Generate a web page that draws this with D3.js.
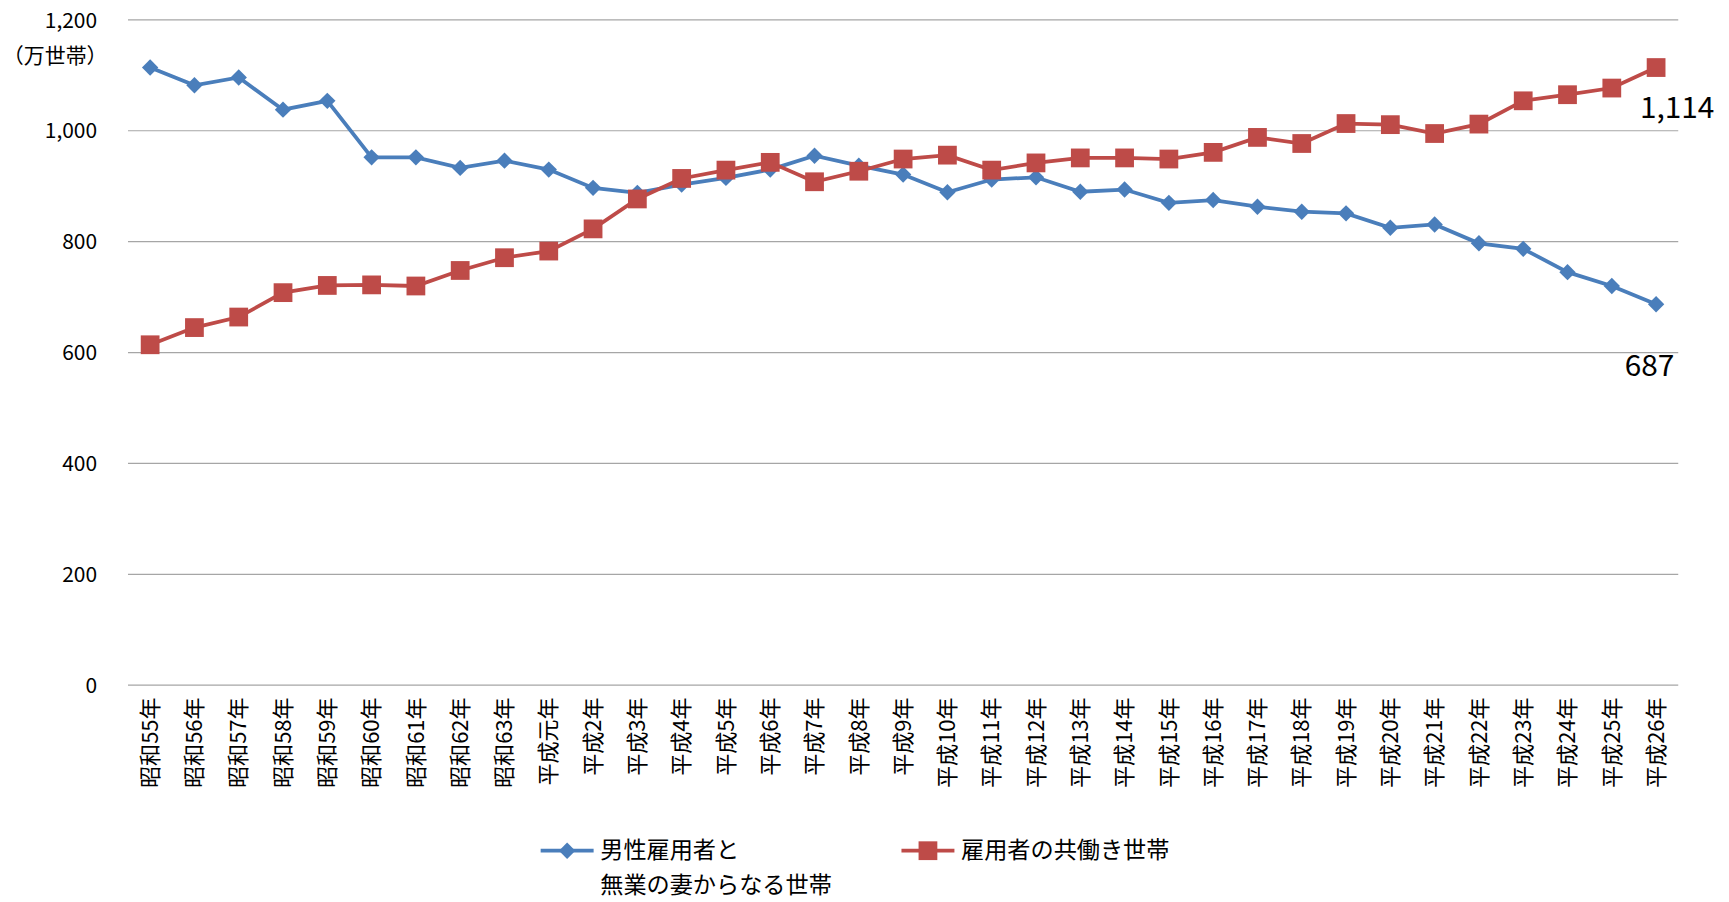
<!DOCTYPE html>
<html><head><meta charset="utf-8">
<script src="https://cdn.jsdelivr.net/npm/d3@7"></script>
<style>body{margin:0;background:#fff;font-family:"Noto Sans CJK JP","Noto Sans",sans-serif}</style>
</head><body><svg id="c" width="1729" height="902"></svg>
<script>
const categories=["昭和55年","昭和56年","昭和57年","昭和58年","昭和59年","昭和60年","昭和61年","昭和62年","昭和63年","平成元年","平成2年","平成3年","平成4年","平成5年","平成6年","平成7年","平成8年","平成9年","平成10年","平成11年","平成12年","平成13年","平成14年","平成15年","平成16年","平成17年","平成18年","平成19年","平成20年","平成21年","平成22年","平成23年","平成24年","平成25年","平成26年"];
const singleIncome=[1114,1082,1096,1038,1054,952,952,933,946,930,897,888,903,915,930,955,937,921,889,912,916,890,894,870,875,863,854,851,825,831,797,787,745,720,687];
const dualIncome=[614,645,664,708,721,722,720,748,771,783,823,877,914,929,943,908,927,949,956,929,942,951,951,949,961,988,977,1013,1011,995,1012,1054,1065,1077,1114];
const yTicks=[0,200,400,600,800,1000,1200];
const svg=d3.select("#c").append("g").attr("transform",`scale(${1729/1567})`);
const x=d3.scaleBand().domain(categories).range([116,1521]);
const y=d3.scaleLinear().domain([0,1200]).range([621,18]);
const cx=d=>x(d)+x.bandwidth()/2;
svg.append("g").selectAll("line").data(yTicks).join("line")
 .attr("x1",116).attr("x2",1521).attr("y1",d=>y(d)).attr("y2",d=>y(d)).attr("stroke","#a6a6a6").attr("stroke-width",1.1);
svg.append("g").selectAll("text").data(yTicks).join("text")
 .attr("x",88).attr("y",d=>y(d)+7).attr("text-anchor","end").attr("font-size",19).attr("fill","#000").text(d3.format(","));
svg.append("text").attr("x",50).attr("y",57).attr("text-anchor","middle").attr("font-size",19).text("（万世帯）");
svg.append("g").selectAll("text").data(categories).join("text")
 .attr("transform",d=>`translate(${cx(d)+7},632) rotate(-90)`).attr("text-anchor","end").attr("font-size",20).text(d=>d);
const line=d3.line().x((d,i)=>cx(categories[i])).y(d=>y(d));
const blue="#4a7ebb",red="#be4b48";
svg.append("path").attr("d",line(singleIncome)).attr("fill","none").attr("stroke",blue).attr("stroke-width",3.4);
svg.append("path").attr("d",line(dualIncome)).attr("fill","none").attr("stroke",red).attr("stroke-width",3.4);
svg.append("g").selectAll("path").data(singleIncome).join("path")
 .attr("d",d3.symbol(d3.symbolSquare,110)).attr("fill",blue)
 .attr("transform",(d,i)=>`translate(${cx(categories[i])},${y(d)}) rotate(45)`);
svg.append("g").selectAll("rect").data(dualIncome).join("rect")
 .attr("x",(d,i)=>cx(categories[i])-8.5).attr("y",d=>y(d)-8.5).attr("width",17).attr("height",17).attr("fill",red);
svg.append("text").attr("x",1520).attr("y",107).attr("text-anchor","middle").attr("font-size",27).text(d3.format(",")(dualIncome[34]));
svg.append("text").attr("x",1495).attr("y",341).attr("text-anchor","middle").attr("font-size",27).text(singleIncome[34]);
// legend
svg.append("line").attr("x1",490).attr("x2",538).attr("y1",771).attr("y2",771).attr("stroke",blue).attr("stroke-width",3.4);
svg.append("path").attr("d",d3.symbol(d3.symbolSquare,110)).attr("fill",blue).attr("transform","translate(514,771) rotate(45)");
svg.append("text").attr("x",544).attr("y",778).attr("font-size",21).text("男性雇用者と");
svg.append("text").attr("x",544).attr("y",809).attr("font-size",21).text("無業の妻からなる世帯");
svg.append("line").attr("x1",817).attr("x2",865).attr("y1",771).attr("y2",771).attr("stroke",red).attr("stroke-width",3.4);
svg.append("rect").attr("x",832.5).attr("y",762.5).attr("width",17).attr("height",17).attr("fill",red);
svg.append("text").attr("x",871).attr("y",778).attr("font-size",21).text("雇用者の共働き世帯");
</script></body></html>
